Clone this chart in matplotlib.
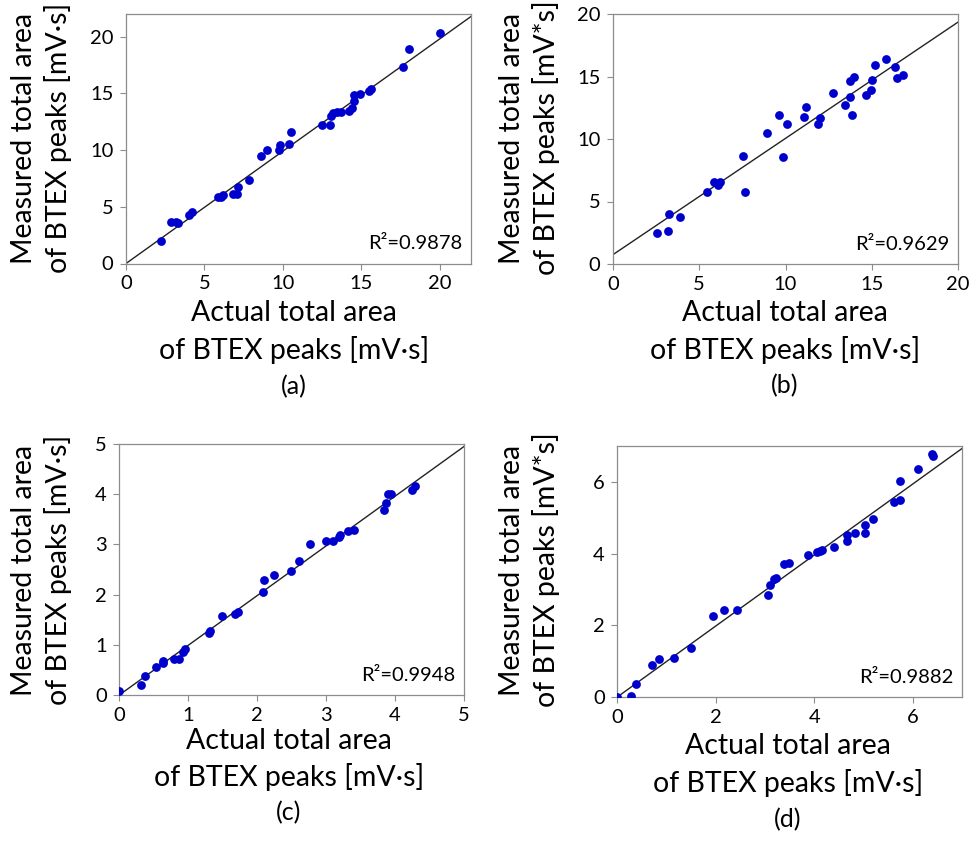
import numpy as np
import matplotlib.pyplot as plt

plt.rcParams['font.family'] = ['Lato', 'DejaVu Sans']

# %% data
a_actual = [2.23, 2.9, 3.2, 3.3, 4.04, 4.19, 5.85, 6.04, 6.21, 6.85, 7.06, 7.13, 7.87,
            8.62, 8.98, 9.77, 9.85, 10.4, 10.55, 12.53, 13.02, 13.06, 13.19, 13.45,
            13.74, 14.21, 14.4, 14.53, 14.53, 14.91, 15.49, 15.6, 17.66, 18.04, 20.04]
a_measured = [2.02, 3.7, 3.7, 3.6, 4.24, 4.56, 5.82, 5.88, 6.0, 6.17, 6.17, 6.75, 7.34,
              9.44, 9.97, 9.97, 10.47, 10.5, 11.58, 12.22, 12.22, 12.98, 13.27, 13.33,
              13.33, 13.42, 13.74, 14.33, 14.85, 14.97, 15.18, 15.41, 17.31, 18.89, 20.29]

b_actual = [2.57, 3.19, 3.27, 3.86, 5.47, 5.87, 6.09, 6.18, 7.52, 7.65, 8.95, 9.6, 9.86,
            10.11, 11.05, 11.17, 11.88, 12.02, 12.73, 13.43, 13.74, 13.76, 13.86, 13.97,
            14.65, 14.98, 15.0, 15.21, 15.85, 16.35, 16.48, 16.81]
b_measured = [2.51, 2.67, 3.97, 3.76, 5.79, 6.56, 6.29, 6.59, 8.64, 5.73, 10.48, 11.89, 8.53,
              11.23, 11.73, 12.56, 11.2, 11.71, 13.68, 12.75, 13.39, 14.64, 11.95, 14.93,
              13.49, 13.89, 14.69, 15.92, 16.37, 15.79, 14.88, 15.15]

c_actual = [0.0, 0.32, 0.38, 0.53, 0.63, 0.64, 0.80, 0.86, 0.92, 0.96, 1.30, 1.31, 1.49,
            1.68, 1.72, 2.09, 2.10, 2.24, 2.49, 2.61, 2.76, 3.0, 3.10, 3.19, 3.20, 3.32,
            3.40, 3.84, 3.87, 3.90, 3.94, 4.24, 4.29]
c_measured = [0.07, 0.19, 0.38, 0.55, 0.64, 0.67, 0.71, 0.71, 0.86, 0.91, 1.24, 1.28, 1.58,
              1.62, 1.66, 2.06, 2.30, 2.39, 2.48, 2.66, 3.0, 3.07, 3.07, 3.14, 3.19, 3.26,
              3.28, 3.68, 3.83, 4.0, 4.01, 4.09, 4.17]

d_actual = [0.0, 0.28, 0.38, 0.70, 0.85, 1.16, 1.50, 1.95, 2.17, 2.44, 3.06, 3.10, 3.18,
            3.22, 3.38, 3.49, 3.87, 4.05, 4.12, 4.16, 4.41, 4.66, 4.66, 4.83, 5.04, 5.04,
            5.19, 5.62, 5.74, 5.74, 6.11, 6.40, 6.42]
d_measured = [0.0, 0.03, 0.37, 0.90, 1.06, 1.10, 1.38, 2.27, 2.42, 2.44, 2.84, 3.12, 3.28,
              3.33, 3.72, 3.75, 3.97, 4.03, 4.07, 4.11, 4.19, 4.34, 4.53, 4.57, 4.57, 4.80,
              4.96, 5.43, 5.50, 6.01, 6.36, 6.78, 6.73]

# trendlines (slope, intercept)
fit_slope = [0.99, 0.93, 0.99, 0.99]
fit_icpt = [0.0, 0.75, 0.0, 0.0]
r2_text = ['R²=0.9878', 'R²=0.9629', 'R²=0.9948', 'R²=0.9882']
ax_max = [22, 20, 5, 7]
ticks = [[0, 5, 10, 15, 20], [0, 5, 10, 15, 20], [0, 1, 2, 3, 4, 5], [0, 2, 4, 6]]
y_units = ['[mV·s]', '[mV*s]', '[mV·s]', '[mV*s]']
tags = ['(a)', '(b)', '(c)', '(d)']

# %% figure
W, H = 973, 858
fig = plt.figure(figsize=(W / 100, H / 100), dpi=100)

# axes boxes in pixels: left, right, top, bottom
boxes = [(126, 471, 14, 263.5), (613, 958, 14, 264),
         (119.3, 464, 444, 695), (617.3, 962, 446, 697)]
xs = [a_actual, b_actual, c_actual, d_actual]
ys = [a_measured, b_measured, c_measured, d_measured]

# label positions in pixels
ylab_x = [(24, 58), (512, 546), (24, 58), (512, 546)]
ylab_y = [138, 138, 570, 570]
xlab_x = [294, 785, 289, 788]
xlab_y = [(313, 350, 387), (313, 350, 386), (741, 777, 813), (746, 783, 820)]

grey = '#8c8c8c'
for i in range(4):
    l, r, t, b = boxes[i]
    ax = fig.add_axes([l / W, 1 - b / H, (r - l) / W, (b - t) / H])
    ax.scatter(xs[i], ys[i], s=40, color='#0000cc', zorder=3, linewidths=0)
    xl = np.array([0, ax_max[i]])
    ax.plot(xl, fit_slope[i] * xl + fit_icpt[i], color='#222222', lw=1.0, zorder=2)
    ax.set_xlim(0, ax_max[i])
    ax.set_ylim(0, ax_max[i])
    ax.set_xticks(ticks[i])
    ax.set_yticks(ticks[i])
    ax.tick_params(direction='out', length=4, width=0.8, color=grey, labelsize=14.5)
    ax.tick_params(axis='x', pad=4.5)
    ax.tick_params(axis='y', pad=5)
    for s in ax.spines.values():
        s.set_color(grey)
        s.set_linewidth(0.9)
    ax.text(0.975, 0.045, r2_text[i], transform=ax.transAxes,
            ha='right', va='bottom', fontsize=14.5)

    fig.text(ylab_x[i][0] / W, 1 - ylab_y[i] / H, 'Measured total area',
             rotation=90, ha='center', va='center', fontsize=20.5)
    fig.text(ylab_x[i][1] / W, 1 - ylab_y[i] / H, 'of BTEX peaks ' + y_units[i],
             rotation=90, ha='center', va='center', fontsize=20.5)
    fig.text(xlab_x[i] / W, 1 - xlab_y[i][0] / H, 'Actual total area',
             ha='center', va='center', fontsize=20.5)
    fig.text(xlab_x[i] / W, 1 - xlab_y[i][1] / H, 'of BTEX peaks [mV·s]',
             ha='center', va='center', fontsize=20.5)
    fig.text(xlab_x[i] / W, 1 - xlab_y[i][2] / H, tags[i],
             ha='center', va='center', fontsize=18)

fig.savefig('out.png', dpi=100)
